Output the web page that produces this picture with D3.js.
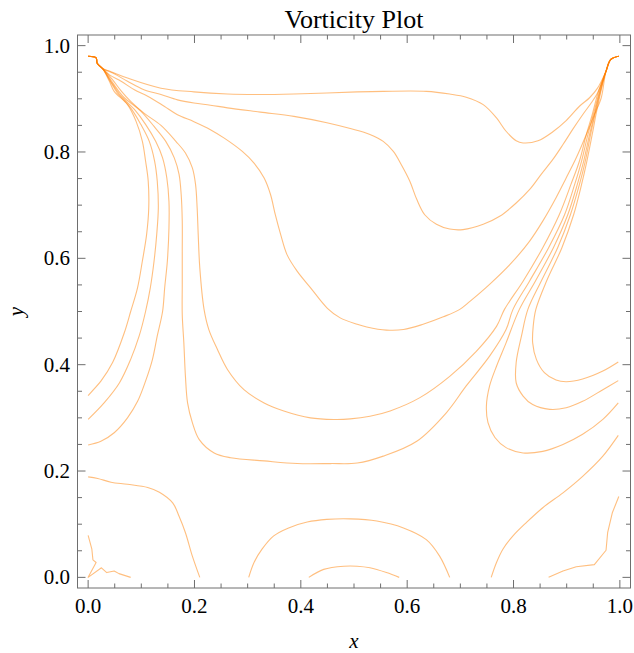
<!DOCTYPE html>
<html>
<head>
<meta charset="utf-8">
<script src="https://cdn.jsdelivr.net/npm/d3@7/dist/d3.min.js"></script>
<style>
  html, body { margin: 0; padding: 0; background: #fff; }
  svg { display: block; }
  text { font-family: "Liberation Serif", "Times New Roman", serif; fill: #000; }
</style>
</head>
<body>
<svg id="chart" width="634" height="653"></svg>
<script>
// Vorticity contour lines, each a list of [x, y] points in the unit cavity.
const contourA = [[0.000,0.980],[0.015,0.977],[0.017,0.967],[0.027,0.957],[0.043,0.951],[0.074,0.939],[0.137,0.920],[0.199,0.913],[0.262,0.909],[0.324,0.908],[0.387,0.909],[0.449,0.911],[0.506,0.913],[0.555,0.914],[0.636,0.914],[0.680,0.909],[0.711,0.903],[0.743,0.889],[0.768,0.864],[0.786,0.839],[0.805,0.821],[0.818,0.817],[0.846,0.821],[0.874,0.838],[0.899,0.859],[0.924,0.886],[0.943,0.902],[0.958,0.920],[0.974,0.952],[0.983,0.974],[0.998,0.980]];
const contourB = [[0.000,0.980],[0.015,0.977],[0.017,0.967],[0.027,0.957],[0.049,0.947],[0.074,0.933],[0.105,0.917],[0.137,0.908],[0.168,0.898],[0.199,0.892],[0.230,0.888],[0.262,0.883],[0.324,0.875],[0.387,0.867],[0.449,0.855],[0.493,0.844],[0.530,0.833],[0.555,0.820],[0.574,0.801],[0.589,0.776],[0.605,0.745],[0.618,0.711],[0.633,0.682],[0.655,0.664],[0.680,0.655],[0.705,0.654],[0.743,0.664],[0.774,0.679],[0.805,0.704],[0.830,0.729],[0.852,0.758],[0.874,0.786],[0.893,0.814],[0.911,0.842],[0.930,0.870],[0.946,0.892],[0.958,0.911],[0.974,0.952],[0.983,0.974],[0.998,0.980]];
const contourC = [[0.000,0.980],[0.015,0.977],[0.017,0.967],[0.027,0.957],[0.040,0.945],[0.062,0.933],[0.087,0.917],[0.112,0.905],[0.143,0.886],[0.168,0.870],[0.199,0.857],[0.230,0.842],[0.256,0.826],[0.290,0.801],[0.312,0.779],[0.331,0.751],[0.343,0.720],[0.352,0.682],[0.362,0.645],[0.374,0.607],[0.393,0.576],[0.418,0.545],[0.450,0.506],[0.474,0.488],[0.506,0.476],[0.524,0.471],[0.561,0.465],[0.593,0.466],[0.630,0.476],[0.668,0.490],[0.699,0.504],[0.718,0.519],[0.755,0.551],[0.793,0.588],[0.830,0.632],[0.855,0.670],[0.880,0.714],[0.899,0.751],[0.918,0.789],[0.937,0.833],[0.952,0.870],[0.965,0.902],[0.974,0.952],[0.983,0.974],[0.998,0.980]];
const contourD = [[0.000,0.980],[0.015,0.977],[0.017,0.967],[0.027,0.957],[0.045,0.937],[0.062,0.915],[0.080,0.895],[0.105,0.873],[0.137,0.850],[0.165,0.820],[0.183,0.798],[0.196,0.770],[0.202,0.739],[0.205,0.695],[0.207,0.645],[0.210,0.582],[0.218,0.504],[0.227,0.466],[0.243,0.429],[0.262,0.391],[0.293,0.353],[0.331,0.328],[0.368,0.313],[0.418,0.300],[0.462,0.297],[0.493,0.298],[0.530,0.303],[0.568,0.313],[0.624,0.338],[0.680,0.378],[0.730,0.425],[0.768,0.472],[0.783,0.504],[0.818,0.557],[0.855,0.620],[0.886,0.682],[0.908,0.739],[0.924,0.783],[0.937,0.833],[0.948,0.870],[0.958,0.908],[0.974,0.952],[0.983,0.974],[0.998,0.980]];
const contourE = [[0.000,0.980],[0.015,0.977],[0.017,0.967],[0.027,0.957],[0.043,0.935],[0.057,0.915],[0.068,0.902],[0.099,0.877],[0.124,0.848],[0.146,0.820],[0.162,0.789],[0.171,0.758],[0.175,0.720],[0.177,0.670],[0.177,0.613],[0.177,0.551],[0.177,0.494],[0.180,0.441],[0.183,0.378],[0.187,0.328],[0.196,0.291],[0.209,0.259],[0.237,0.234],[0.268,0.225],[0.331,0.219],[0.393,0.214],[0.456,0.214],[0.506,0.215],[0.555,0.228],[0.618,0.256],[0.674,0.310],[0.711,0.360],[0.755,0.416],[0.786,0.466],[0.799,0.504],[0.830,0.557],[0.866,0.620],[0.896,0.682],[0.915,0.739],[0.928,0.783],[0.940,0.833],[0.950,0.870],[0.960,0.908],[0.974,0.952],[0.983,0.974],[0.998,0.980]];
const contourF = [[0.000,0.980],[0.015,0.977],[0.017,0.967],[0.027,0.957],[0.042,0.934],[0.053,0.917],[0.062,0.905],[0.087,0.880],[0.108,0.852],[0.127,0.820],[0.140,0.789],[0.148,0.751],[0.152,0.707],[0.152,0.657],[0.149,0.595],[0.144,0.545],[0.140,0.500],[0.130,0.454],[0.121,0.410],[0.108,0.369],[0.093,0.331],[0.074,0.300],[0.049,0.272],[0.024,0.256],[0.000,0.249]];
const contourG = [[0.000,0.980],[0.015,0.977],[0.017,0.967],[0.027,0.957],[0.041,0.934],[0.055,0.911],[0.080,0.883],[0.099,0.852],[0.115,0.820],[0.125,0.783],[0.130,0.745],[0.132,0.695],[0.129,0.645],[0.124,0.595],[0.117,0.545],[0.108,0.500],[0.096,0.454],[0.080,0.410],[0.059,0.366],[0.030,0.328],[0.000,0.297]];
const contourH = [[0.000,0.980],[0.015,0.977],[0.017,0.967],[0.027,0.957],[0.040,0.933],[0.049,0.914],[0.074,0.889],[0.090,0.858],[0.102,0.820],[0.108,0.783],[0.113,0.745],[0.114,0.695],[0.110,0.645],[0.102,0.595],[0.093,0.545],[0.080,0.500],[0.068,0.460],[0.046,0.404],[0.024,0.369],[0.000,0.342]];
const hookOuter = [[0.998,0.980],[0.983,0.974],[0.974,0.952],[0.963,0.908],[0.955,0.870],[0.948,0.833],[0.938,0.783],[0.928,0.739],[0.913,0.682],[0.891,0.620],[0.862,0.557],[0.842,0.504],[0.837,0.472],[0.836,0.441],[0.843,0.410],[0.858,0.385],[0.880,0.371],[0.899,0.368],[0.930,0.373],[0.968,0.388],[0.997,0.405]];
const hookMiddle = [[0.998,0.980],[0.983,0.974],[0.974,0.952],[0.962,0.908],[0.953,0.870],[0.945,0.833],[0.935,0.783],[0.924,0.739],[0.907,0.682],[0.883,0.620],[0.852,0.557],[0.827,0.504],[0.815,0.454],[0.805,0.404],[0.805,0.366],[0.818,0.341],[0.836,0.325],[0.868,0.316],[0.899,0.319],[0.930,0.331],[0.968,0.353],[0.997,0.370]];
const hookInner = [[0.998,0.980],[0.983,0.974],[0.974,0.952],[0.961,0.908],[0.952,0.870],[0.943,0.833],[0.932,0.783],[0.920,0.739],[0.902,0.682],[0.875,0.620],[0.841,0.557],[0.811,0.504],[0.786,0.441],[0.768,0.397],[0.755,0.360],[0.749,0.322],[0.752,0.291],[0.765,0.263],[0.786,0.244],[0.818,0.234],[0.855,0.237],[0.893,0.250],[0.930,0.269],[0.968,0.297],[0.997,0.328]];
const lowerLeft = [[0.000,0.189],[0.018,0.186],[0.043,0.179],[0.074,0.175],[0.112,0.169],[0.134,0.160],[0.159,0.140],[0.171,0.115],[0.183,0.084],[0.196,0.040],[0.210,0.000]];
const cornerSquiggle = [[0.000,0.079],[0.007,0.053],[0.009,0.033],[0.015,0.028],[0.000,0.000],[0.025,0.018],[0.035,0.009],[0.049,0.012],[0.058,0.007],[0.080,0.000]];
const archOuter = [[0.302,0.000],[0.312,0.028],[0.327,0.053],[0.349,0.078],[0.377,0.093],[0.412,0.104],[0.449,0.109],[0.493,0.110],[0.543,0.106],[0.593,0.093],[0.636,0.071],[0.661,0.040],[0.680,0.000]];
const archInner = [[0.415,0.000],[0.443,0.015],[0.481,0.021],[0.506,0.021],[0.530,0.018],[0.561,0.009],[0.585,0.000]];
const lowerRight = [[0.997,0.267],[0.968,0.228],[0.930,0.190],[0.893,0.159],[0.855,0.131],[0.824,0.103],[0.799,0.078],[0.780,0.053],[0.768,0.028],[0.758,0.000]];
const cornerRight = [[0.866,0.000],[0.893,0.012],[0.918,0.020],[0.952,0.024],[0.974,0.051],[0.977,0.084],[0.986,0.122],[0.998,0.152]];

// Smooth level curves and the two small, jagged corner pieces drawn straight
const smoothLines = [contourA, contourB, contourC, contourD, contourE, contourF, contourG, contourH,
  hookOuter, hookMiddle, hookInner, lowerLeft, archOuter, archInner, lowerRight];
const jaggedLines = [cornerSquiggle, cornerRight];

const majorTicks = [0.0, 0.2, 0.4, 0.6, 0.8, 1.0];
const minorTicks = [0.05, 0.1, 0.15, 0.25, 0.3, 0.35, 0.45, 0.5, 0.55, 0.65, 0.7, 0.75, 0.85, 0.9, 0.95];
const titleText = "Vorticity Plot";
const xLabel = "x";
const yLabel = "y";

const svg = d3.select("#chart");
const frameLeft = 77.5, frameRight = 630.5, frameTop = 35, frameBottom = 588;

const x = d3.scaleLinear().domain([-0.02, 1.02]).range([frameLeft, frameRight]);
const y = d3.scaleLinear().domain([-0.02, 1.02]).range([frameBottom, frameTop]);

const frameColor = "#6e6e6e";
const majorLen = 8, minorLen = 4.5;

// Contour lines
const smooth = d3.line().x(d => x(d[0])).y(d => y(d[1])).curve(d3.curveCatmullRom.alpha(0.5));
const straight = d3.line().x(d => x(d[0])).y(d => y(d[1]));
const lineG = svg.append("g")
  .attr("fill", "none")
  .attr("stroke", "rgb(255,128,0)")
  .attr("stroke-opacity", 0.5)
  .attr("stroke-width", 1.1)
  .attr("stroke-linejoin", "round");
lineG.selectAll("path.smooth").data(smoothLines).join("path").attr("class", "smooth").attr("d", smooth);
lineG.selectAll("path.jagged").data(jaggedLines).join("path").attr("class", "jagged").attr("d", straight);

// Frame
svg.append("rect")
  .attr("x", frameLeft).attr("y", frameTop)
  .attr("width", frameRight - frameLeft).attr("height", frameBottom - frameTop)
  .attr("fill", "none").attr("stroke", frameColor).attr("stroke-width", 1);

// Inward ticks on all four sides
const tickG = svg.append("g").attr("stroke", frameColor).attr("stroke-width", 1);
function drawTicks(values, len) {
  values.forEach(v => {
    const px = x(v), py = y(v);
    tickG.append("line").attr("x1", px).attr("x2", px).attr("y1", frameBottom).attr("y2", frameBottom - len);
    tickG.append("line").attr("x1", px).attr("x2", px).attr("y1", frameTop).attr("y2", frameTop + len);
    tickG.append("line").attr("y1", py).attr("y2", py).attr("x1", frameLeft).attr("x2", frameLeft + len);
    tickG.append("line").attr("y1", py).attr("y2", py).attr("x1", frameRight).attr("x2", frameRight - len);
  });
}
drawTicks(majorTicks, majorLen);
drawTicks(minorTicks, minorLen);

// Tick labels
svg.append("g").selectAll("text").data(majorTicks).join("text")
  .attr("x", d => x(d)).attr("y", 613)
  .attr("text-anchor", "middle").attr("font-size", 21)
  .text(d => d.toFixed(1));
svg.append("g").selectAll("text").data(majorTicks).join("text")
  .attr("x", 70).attr("y", d => y(d)).attr("dy", "0.33em")
  .attr("text-anchor", "end").attr("font-size", 21)
  .text(d => d.toFixed(1));

// Title and axis labels
svg.append("text").attr("x", (frameLeft + frameRight) / 2).attr("y", 28)
  .attr("text-anchor", "middle").attr("font-size", 26).text(titleText);
svg.append("text").attr("x", (frameLeft + frameRight) / 2).attr("y", 648)
  .attr("text-anchor", "middle").attr("font-size", 21).attr("font-style", "italic").text(xLabel);
svg.append("text").attr("transform", `translate(23,${(frameTop + frameBottom) / 2}) rotate(-90)`)
  .attr("text-anchor", "middle").attr("font-size", 21).attr("font-style", "italic").text(yLabel);
</script>
</body>
</html>
